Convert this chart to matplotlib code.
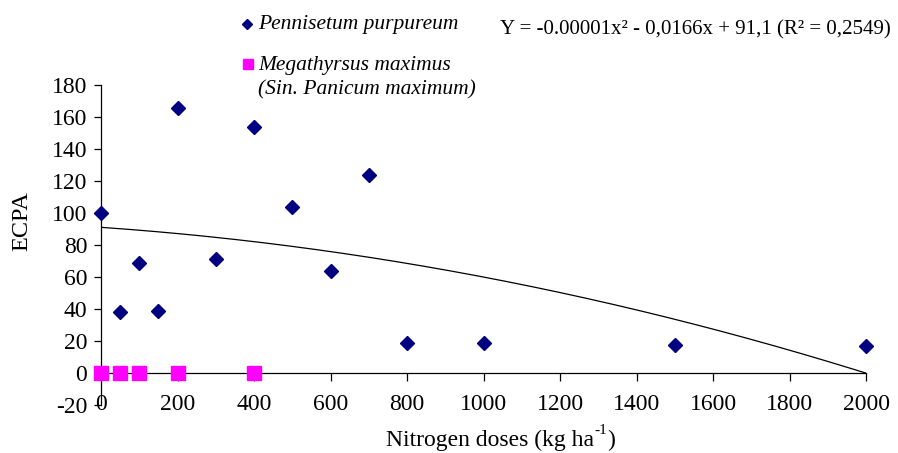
import numpy as np
import matplotlib.pyplot as plt

# Data
doses_pennisetum = [0, 50, 100, 150, 200, 300, 400, 500, 600, 700, 800, 1000, 1500, 2000]
ecpa_pennisetum = [100, 38, 69, 39, 166, 71, 154, 104, 64, 124, 19, 19, 17.5, 17]

doses_megathyrsus = [0, 50, 100, 200, 400]
ecpa_megathyrsus = [0, 0, 0, 0, 0]

# quadratic trend as drawn (reaches 0 at 2000)
trend_a = -0.0000145
trend_b = -0.0166
trend_c = 91.1

x_ticks = [0, 200, 400, 600, 800, 1000, 1200, 1400, 1600, 1800, 2000]
y_ticks = [-20, 0, 20, 40, 60, 80, 100, 120, 140, 160, 180]

NAVY = '#000080'
MAGENTA = '#FF00FF'

plt.rcParams['font.family'] = ['Liberation Serif', 'DejaVu Serif']
plt.rcParams['axes.unicode_minus'] = False

W, H = 898, 453


def px(x, y):
  """pixel position (from top-left) to figure fraction"""
  return x / W, 1 - y / H


def plot():
  fig = plt.figure(figsize=(W / 100, H / 100), dpi=100)
  ax = fig.add_axes([0.1125, 0.106, 0.852, 0.706])

  xs = np.linspace(0, 2000, 200)
  ax.plot(xs, trend_a * xs**2 + trend_b * xs + trend_c, color='black', lw=0.9, zorder=2)

  ax.plot(doses_pennisetum, ecpa_pennisetum, ls='none', marker='D', ms=7.6,
          color=NAVY, clip_on=False, zorder=3)
  ax.plot(doses_megathyrsus, ecpa_megathyrsus, ls='none', marker='s', ms=10,
          color=MAGENTA, clip_on=False, zorder=4)

  ax.set_xlim(0, 2000)
  ax.set_ylim(-20, 180)
  ax.set_xticks(x_ticks)
  ax.set_yticks(y_ticks)

  ax.spines['top'].set_visible(False)
  ax.spines['right'].set_visible(False)
  ax.spines['bottom'].set_position(('data', 0))
  for s in ('left', 'bottom'):
    ax.spines[s].set_linewidth(0.9)

  ax.tick_params(axis='x', direction='out', length=6, width=0.9, pad=9, labelsize=17)
  ax.tick_params(axis='y', direction='out', length=5, width=0.9, pad=5, labelsize=17)

  fig.text(*px(22, 221), 'ECPA', fontsize=17.5, rotation=90, ha='center', va='center')

  # x label with a plain-hyphen superscript
  xl = fig.text(*px(386, 440), 'Nitrogen doses (kg ha', fontsize=17, ha='left', va='center')
  sup = ax.annotate('-1', xy=(1, 0.62), xycoords=xl, fontsize=11, ha='left', va='bottom',
                    annotation_clip=False)
  ax.annotate(')', xy=(1, 0), xycoords=(sup, xl), fontsize=17, ha='left', va='bottom',
              annotation_clip=False)

  # legend and equation
  fig.lines.append(plt.Line2D([247 / W], [1 - 24 / H], transform=fig.transFigure,
                              marker='D', ms=4.8, color=NAVY, ls='none'))
  fig.text(*px(258, 25), 'Pennisetum purpureum', fontsize=15.5, style='italic',
           ha='left', va='center')
  fig.lines.append(plt.Line2D([248 / W], [1 - 64 / H], transform=fig.transFigure,
                              marker='s', ms=7, color=MAGENTA, ls='none'))
  fig.text(*px(258, 65), 'Megathyrsus maximus', fontsize=15.5, style='italic',
           ha='left', va='center')
  fig.text(*px(258, 90), '(Sin. Panicum maximum)', fontsize=15.5, style='italic',
           ha='left', va='center')
  fig.text(*px(500, 30),
           'Y = -0.00001x\u00b2 - 0,0166x + 91,1 (R\u00b2 = 0,2549)',
           fontsize=15, ha='left', va='center')

  fig.savefig('out.png', dpi=100)


if __name__ == "__main__":
  plot()
